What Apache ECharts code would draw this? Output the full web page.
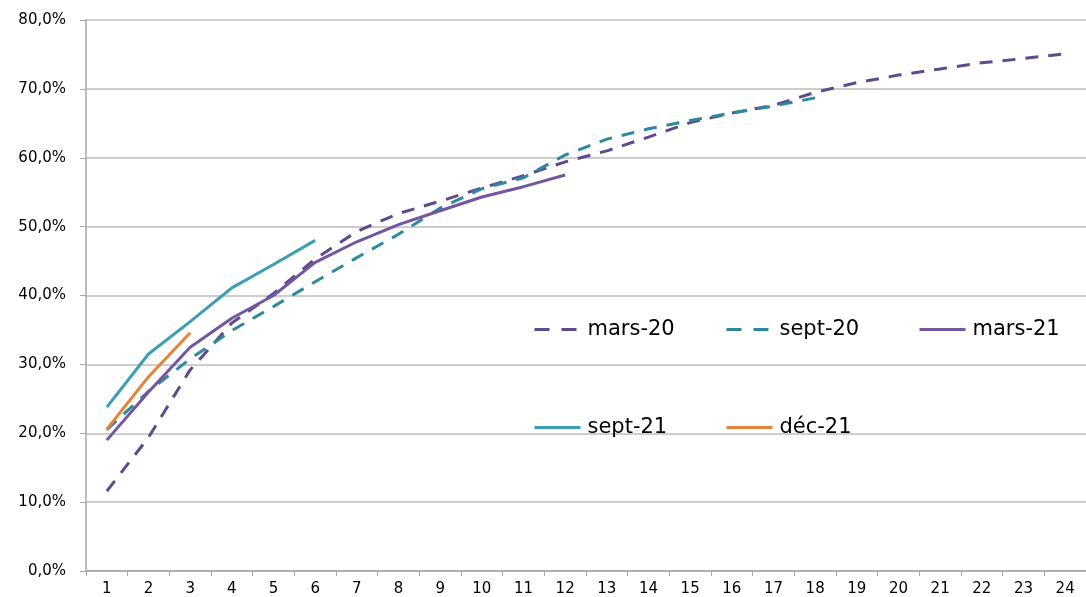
<!DOCTYPE html>
<html>
<head>
<meta charset="utf-8">
<script src="https://cdn.jsdelivr.net/npm/echarts@6/dist/echarts.min.js"></script>
<style>
  html, body { margin: 0; padding: 0; background: #fff; }
  #chart { width: 1086px; height: 597px; }
</style>
</head>
<body>
<div id="chart"></div>
<script>
var mois = ["1","2","3","4","5","6","7","8","9","10","11","12","13","14","15","16","17","18","19","20","21","22","23","24"];

var mars20 = [11.6, 19.4, 29.2, 36.0, 40.3, 45.3, 49.3, 51.9, 53.7, 55.6, 57.4, 59.4, 61.0, 63.0, 65.1, 66.5, 67.6, 69.5, 70.9, 72.0, 72.9, 73.8, 74.4, 75.1];
var sept20 = [20.5, 26.1, 30.8, 34.9, 38.4, 42.0, 45.5, 48.9, 52.7, 55.5, 57.1, 60.4, 62.7, 64.2, 65.4, 66.5, 67.5, 68.7];
var mars21 = [19.0, 26.0, 32.5, 36.7, 40.0, 44.8, 47.8, 50.3, 52.3, 54.3, 55.8, 57.5];
var sept21 = [23.8, 31.5, 36.2, 41.1, 44.5, 48.0];
var dec21 = [20.6, 28.2, 34.6];

var myChart = echarts.init(document.getElementById("chart"));

var tirets = [13, 10];

function serie(name, data, color, dashed) {
  return {
    name: name,
    type: "line",
    data: data,
    symbol: "none",
    animation: false,
    lineStyle: {
      color: color,
      width: 3,
      type: dashed ? tirets : "solid",
      cap: "butt",
    },
    itemStyle: { color: color },
  };
}

function legende(name, left, top, dashed) {
  return {
    data: [name],
    left: left,
    top: top,
    itemWidth: 46,
    itemHeight: 20,
    itemGap: 0,
    itemStyle: { opacity: 0 },
    lineStyle: { width: 3, type: dashed ? [15, 12] : "solid", cap: "butt" },
    textStyle: {
      fontFamily: "DejaVu Sans",
      fontSize: 21,
      color: "#000",
      padding: [0, 0, 0, 2],
    },
  };
}

myChart.setOption({
  backgroundColor: "#fff",
  grid: {
    left: 86,
    top: 20,
    width: 1009,
    bottom: 25,
    containLabel: false,
  },
  legend: [
    legende("mars-20", 528, 314, true),
    legende("sept-20", 720, 314, true),
    legende("mars-21", 913, 314, false),
    legende("sept-21", 528, 412, false),
    legende("déc-21", 720, 412, false),
  ],
  xAxis: {
    type: "category",
    data: mois,
    boundaryGap: true,
    axisLine: { lineStyle: { color: "#a6a6a6", width: 1.5 } },
    axisTick: { show: true, length: 5, lineStyle: { color: "#a6a6a6" } },
    axisLabel: {
      margin: 11,
      fontFamily: "DejaVu Sans",
      fontSize: 15,
      color: "#000",
    },
  },
  yAxis: {
    type: "value",
    min: 0,
    max: 80,
    interval: 10,
    axisLine: { show: true, lineStyle: { color: "#a6a6a6", width: 1.5 } },
    axisTick: { show: true, length: 6, lineStyle: { color: "#a6a6a6" } },
    splitLine: { lineStyle: { color: "#bdbdbd", width: 1.5 } },
    axisLabel: {
      margin: 20,
      fontFamily: "DejaVu Sans",
      fontSize: 15,
      color: "#000",
      formatter: function (v) {
        return v.toFixed(1).replace(".", ",") + "%";
      },
    },
  },
  series: [
    serie("mars-20", mars20, "#5f4a8b", true),
    serie("sept-20", sept20, "#2e889e", true),
    serie("mars-21", mars21, "#7356a0", false),
    serie("sept-21", sept21, "#3b9db6", false),
    serie("déc-21", dec21, "#e8823a", false),
  ],
});

window.addEventListener("resize", () => {
  myChart.resize();
});
</script>
</body>
</html>
